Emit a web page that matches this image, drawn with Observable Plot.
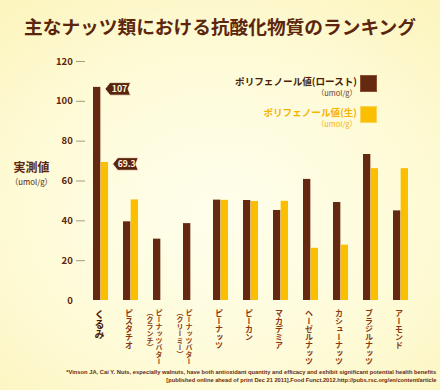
<!DOCTYPE html>
<html><head><meta charset="utf-8">
<script src="https://cdn.jsdelivr.net/npm/d3@7"></script>
<script src="https://cdn.jsdelivr.net/npm/@observablehq/plot@0.6"></script>
<style>
body{margin:0;}
#wrap{position:relative;width:440px;height:390px;overflow:hidden;
 background:radial-gradient(ellipse 75% 70% at 50% 55%, #fffeec 0%, #fefbd9 55%, #fcf5bf 100%);
 font-family:"Noto Sans CJK JP","Noto Sans",sans-serif;}
#title{position:absolute;left:0;top:0;width:440px;height:52px;line-height:52px;text-align:center;
 font-size:18.7px;font-weight:700;color:#5b260d;white-space:nowrap;}
#chart{position:absolute;left:0;top:48px;}
.t{position:absolute;white-space:nowrap;}
.sw{position:absolute;width:17px;height:17px;box-sizing:border-box;}
#foot{position:absolute;right:4px;top:368px;text-align:right;font-family:"Liberation Sans Narrow","Liberation Sans",sans-serif;
 font-weight:700;font-size:5.8px;line-height:8px;color:#6b2a0e;}
#foot div{white-space:nowrap;transform-origin:right center;}
</style></head>
<body>
<div id="wrap">
  <div id="title"></div>
  <div id="chart"></div>
  <div id="leg"></div>
  <div id="ytitle"></div>
  <div id="foot"></div>
</div>
<script>
// ---- data ----
const titleText = "主なナッツ類における抗酸化物質のランキング";
const categories = ["くるみ","ピスタチオ","ピーナッツバター（クランチ）","ピーナッツバター（クリーミー）","ピーナッツ","ピーカン","マカデミア","ヘーゼルナッツ","カシューナッツ","ブラジルナッツ","アーモンド"];
const labelMain = ["くるみ","ピスタチオ","ピーナッツバター","ピーナッツバター","ピーナッツ","ピーカン","マカデミア","ヘーゼルナッツ","カシューナッツ","ブラジルナッツ","アーモンド"];
const labelSub = ["","","（クランチ）","（クリーミー）","","","","","","",""];
const roast = [107, 39.5, 30.8, 38.6, 50.4, 50.2, 45.2, 60.8, 49.2, 73.3, 45.0];
const raw = [69.3, 50.5, null, null, 50.3, 49.7, 49.8, 26.2, 27.8, 66.2, 66.2];
const yTicks = [0, 20, 40, 60, 80, 100, 120];
const seriesNames = ["ポリフェノール値(ロースト)", "ポリフェノール値(生)"];
const unitText = "（umol/g）";
const yTitle = "実測値";
const footLines = [
  "*Vinson JA, Cai Y. Nuts, especially walnuts, have both antioxidant quantity and efficacy and exhibit significant potential health benefits",
  "[published online ahead of print Dec 21 2011].Food Funct.2012.http://pubs.rsc.org/en/content/article"
];

// ---- styles ----
const brown = "#642910", yellow = "#fbbf00";
const W = 440, H = 320, mL = 85, mR = 24, mT = 13, mB = 68;
const padIn = 0.49, padOut = 0.245;
const bw = (W - mL - mR) / categories.length * (1 - padIn);

const rows = categories.map((c, i) => ({cat: c, roast: roast[i], raw: raw[i], main: labelMain[i], sub: labelSub[i]}));
const flagsRoast = rows.filter((d, i) => i === 0).map(d => ({cat: d.cat, value: d.roast}));
const flagsRaw = rows.filter((d, i) => i === 0).map(d => ({cat: d.cat, value: d.raw}));

const flag = {draw(ctx) {
  ctx.moveTo(0, 0); ctx.lineTo(5, -6.3); ctx.lineTo(25.5, -6.3); ctx.lineTo(23, 0);
  ctx.lineTo(25.5, 6.3); ctx.lineTo(5, 6.3); ctx.closePath();
}};

document.getElementById("title").textContent = titleText;

const plot = Plot.plot({
  width: W, height: H, marginTop: mT, marginBottom: mB, marginLeft: mL, marginRight: mR,
  style: {background: "transparent", fontFamily: '"Noto Sans CJK JP", sans-serif', overflow: "visible"},
  x: {domain: categories, paddingInner: padIn, paddingOuter: padOut, axis: null},
  y: {domain: [0, 120], axis: null},
  marks: [
    Plot.axisY({ticks: yTicks.slice(1), tickSize: 9, tickFormat: () => "", stroke: "#ad987c", strokeWidth: 1}),
    Plot.axisY({ticks: yTicks, tickSize: 0, tickPadding: 12.7, fontSize: 9.5, fontWeight: "bold", fill: "#5b260d"}),
    Plot.barY(rows, {x: "cat", y: "roast", fill: brown, insetRight: bw / 2}),
    Plot.barY(rows, {x: "cat", y: "raw", fill: yellow, insetLeft: bw / 2}),
    Plot.dot(flagsRoast, {x: "cat", y: "value", symbol: flag, r: 5, fill: "#5a240c", stroke: "#fff6e0", strokeWidth: 0.8, dx: 4, dy: 1.5}),
    Plot.text(flagsRoast, {x: "cat", y: "value", text: d => String(d.value), dx: 4 + 14.5, dy: 1.5, fill: "#fff6e0", fontSize: 8.8, fontWeight: "bold"}),
    Plot.dot(flagsRaw, {x: "cat", y: "value", symbol: flag, r: 5, fill: "#5a240c", stroke: "#fff6e0", strokeWidth: 0.8, dx: bw / 2 + 4, dy: 1.5}),
    Plot.text(flagsRaw, {x: "cat", y: "value", text: d => String(d.value), dx: bw / 2 + 4 + 14, dy: 1.5, fill: "#fff6e0", fontSize: 8.6, fontWeight: "bold"}),
    Plot.text(rows.slice(0, 1), {x: "cat", text: "main", frameAnchor: "bottom", dx: -1.5, dy: 9, textAnchor: "start", lineAnchor: "bottom", fontSize: 10, fontWeight: "bold", fill: "#4a1c08"}),
    Plot.text(rows.slice(1), {x: "cat", text: "main", frameAnchor: "bottom", dx: -2, dy: 8, textAnchor: "start", lineAnchor: "bottom", fontSize: d => d.main.length > 7 ? 7 : 8, fontWeight: "bold", fill: "#8a3810"}),
    Plot.text(rows.filter(d => d.sub), {x: "cat", text: "sub", frameAnchor: "bottom", dx: -11, dy: 8, textAnchor: "start", lineAnchor: "bottom", fontSize: 7, fontWeight: "bold", fill: "#8a3810"})
  ]
});
document.getElementById("chart").appendChild(plot);

// vertical writing for category labels
const vertical = new Set([...labelMain, ...labelSub.filter(s => s)]);
plot.querySelectorAll("text").forEach(t => {
  if (vertical.has(t.textContent)) { t.style.writingMode = "vertical-rl"; t.style.textOrientation = "mixed"; }
});

// legend + axis title (HTML)
function addText(parent, txt, css) {
  const d = document.createElement("div"); d.className = "t"; d.textContent = txt;
  Object.assign(d.style, css); parent.appendChild(d); return d;
}
const leg = document.getElementById("leg");
const legColors = [["#4a1e0a", "#6b3a1a", brown], ["#f5b400", "#f5b400", yellow]];
const legY = [81, 112];
seriesNames.forEach((name, i) => {
  const cy = legY[i];
  addText(leg, name, {right: (440 - 357) + "px", top: (cy - 6) + "px", height: "12px", lineHeight: "12px", fontSize: "9.6px", fontWeight: "700", color: legColors[i][0]});
  addText(leg, unitText, {right: (440 - 357) + "px", top: (cy + 7) + "px", height: "9px", lineHeight: "9px", fontSize: "7.5px", color: legColors[i][1]});
  const s = document.createElement("div"); s.className = "sw";
  Object.assign(s.style, {left: "360px", top: (cy - 6) + "px", background: legColors[i][2], border: "1px solid " + (i ? "#fcd35a" : "#8a5030")});
  leg.appendChild(s);
});
const yt = document.getElementById("ytitle");
addText(yt, yTitle, {left: "0px", width: "63px", textAlign: "center", top: "160px", height: "14px", lineHeight: "14px", fontSize: "12px", fontWeight: "700", color: "#5b260d"});
addText(yt, unitText, {left: "0px", width: "63px", textAlign: "center", top: "177px", height: "9px", lineHeight: "9px", fontSize: "7.8px", color: "#5b260d"});

// footnote
const foot = document.getElementById("foot");
footLines.forEach(l => { const d = document.createElement("div"); d.textContent = l; foot.appendChild(d); });
const targetW = 370;
foot.querySelectorAll("div").forEach((d, i) => {
  const span = document.createElement("span"); span.textContent = d.textContent; d.textContent = ""; d.appendChild(span);
  span.style.display = "inline-block";
  const w = span.getBoundingClientRect().width;
  const tw = i === 0 ? targetW : targetW * 0.73;
  if (w > 0) { span.style.transform = `scaleX(${tw / w})`; span.style.transformOrigin = "right center"; }
});
</script>
</body></html>
